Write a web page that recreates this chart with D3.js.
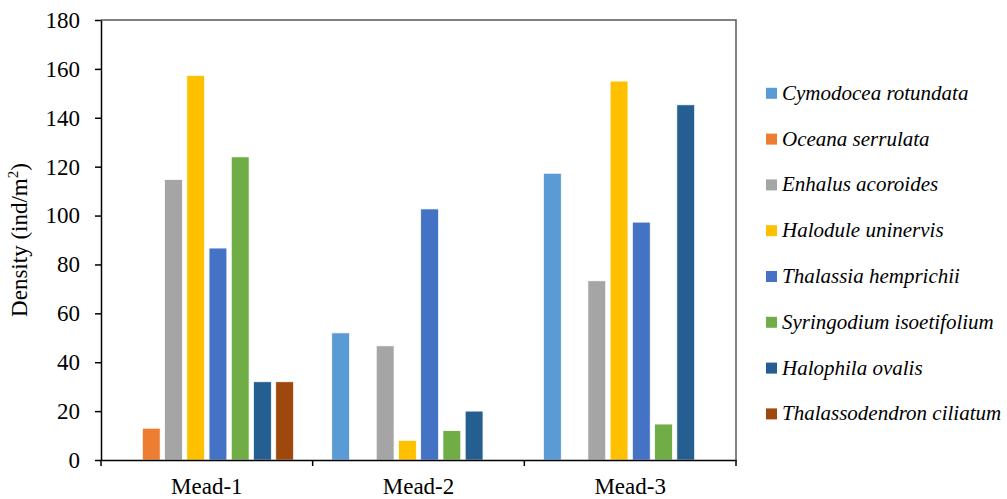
<!DOCTYPE html>
<html><head><meta charset="utf-8">
<script src="https://cdn.jsdelivr.net/npm/d3@7"></script>
<style>body{margin:0;background:#fff}svg{display:block}
svg text{font-family:"Liberation Serif","Times New Roman",Times,serif !important;}</style>
</head><body>
<svg id="c" width="1007" height="499"></svg>
<script>
const categories = ["Mead-1", "Mead-2", "Mead-3"];
const seriesNames = ["Cymodocea rotundata", "Oceana serrulata", "Enhalus acoroides", "Halodule uninervis",
  "Thalassia hemprichii", "Syringodium isoetifolium", "Halophila ovalis", "Thalassodendron ciliatum"];
const seriesColors = ["#5B9BD5", "#ED7D31", "#A5A5A5", "#FFC000", "#4472C4", "#70AD47", "#255E91", "#9E480E"];
// values per series: [Mead-1, Mead-2, Mead-3]
const cymodocea = [0, 52, 117.3];
const oceana = [13, 0, 0];
const enhalus = [114.7, 46.7, 73.3];
const halodule = [157.3, 8, 155];
const thalassia = [86.7, 102.7, 97.3];
const syringodium = [124, 12, 14.7];
const halophila = [32, 20, 145.3];
const thalassodendron = [32, 0, 0];
const seriesValues = [cymodocea, oceana, enhalus, halodule, thalassia, syringodium, halophila, thalassodendron];
const yTicks = [0, 20, 40, 60, 80, 100, 120, 140, 160, 180];

const svg = d3.select("#c");
const L = 101, R = 736, T = 20, B = 460;

const x0 = d3.scaleBand().domain(categories).range([L, R]).paddingInner(0).paddingOuter(0);
const x1 = d3.scaleBand().domain(seriesNames).range([0, x0.bandwidth()]).paddingInner(0.2).paddingOuter(0.86);
const y = d3.scaleLinear().domain([0, 180]).range([B, T]);

// frame (top and right)
svg.append("path").attr("d", `M${L},${T}H${R}V${B}`).attr("fill", "none").attr("stroke", "#595959").attr("stroke-width", 1.5);

// bars
const g = svg.append("g");
seriesNames.forEach((s, i) => {
  categories.forEach((c, j) => {
    const v = seriesValues[i][j];
    if (!v) return;
    g.append("rect")
      .attr("x", x0(c) + x1(s))
      .attr("y", y(v))
      .attr("width", x1.bandwidth())
      .attr("height", B - y(v))
      .attr("fill", seriesColors[i])
      .attr("stroke", "#fff").attr("stroke-width", 0.7);
  });
});

// y axis
const yAxis = svg.append("g").attr("transform", `translate(${L},0)`)
  .call(d3.axisLeft(y).tickValues(yTicks).tickSize(6).tickPadding(15).tickSizeOuter(0));
yAxis.select(".domain").attr("stroke", "#000").attr("stroke-width", 1.5);
yAxis.selectAll(".tick line").attr("stroke", "#000").attr("stroke-width", 1.5);
yAxis.selectAll("text").attr("font-size", 23).attr("fill", "#000");

// x axis
const xAxis = svg.append("g").attr("transform", `translate(0,${B})`)
  .call(d3.axisBottom(x0).tickSize(0).tickPadding(18).tickSizeOuter(0));
xAxis.select(".domain").attr("stroke", "#000").attr("stroke-width", 1.5);
xAxis.selectAll("text").attr("font-size", 23).attr("fill", "#000");
// category boundary ticks
const bounds = categories.map(c => x0(c)).concat([R]);
svg.append("g").selectAll("line").data(bounds).join("line")
  .attr("x1", d => d).attr("x2", d => d).attr("y1", B).attr("y2", B + 6)
  .attr("stroke", "#000").attr("stroke-width", 1.5);

// y title
const yt = svg.append("text").attr("transform", `translate(27,${(T + B) / 2}) rotate(-90)`)
  .attr("text-anchor", "middle").attr("font-size", 23).attr("fill", "#000");
yt.append("tspan").text("Density (ind/m");
yt.append("tspan").text("2").attr("font-size", 15).attr("dy", -9);
yt.append("tspan").text(")").attr("dy", 9);

// legend
const leg = svg.append("g");
seriesNames.forEach((s, i) => {
  const cy = 93.3 + i * 45.8;
  leg.append("rect").attr("x", 766).attr("y", cy - 5.5).attr("width", 11).attr("height", 11).attr("fill", seriesColors[i]);
  leg.append("text").attr("x", 782).attr("y", cy + 6.5)
    .attr("font-style", "italic").attr("font-size", 21).attr("fill", "#000").text(s);
});
</script>
</body></html>
